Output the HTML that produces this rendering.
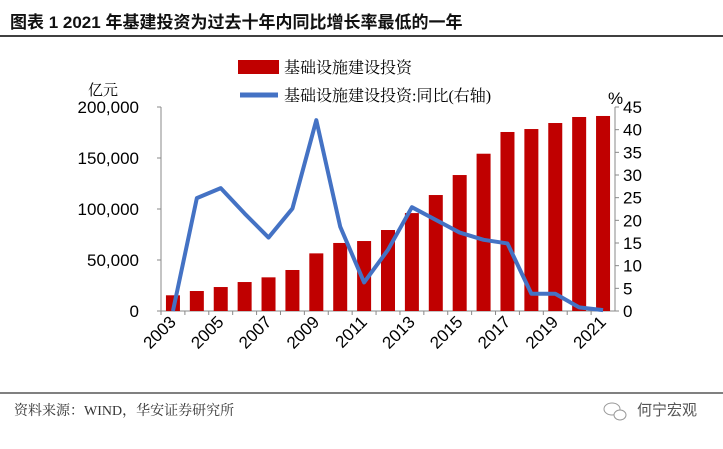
<!DOCTYPE html>
<html><head><meta charset="utf-8"><style>
body{margin:0;background:#fff;}
svg{display:block;font-family:"Liberation Sans","Noto Sans CJK SC",sans-serif;}
.serif{font-family:"Liberation Serif","Noto Serif CJK SC",serif;}
</style></head><body>
<svg id="chart" width="723" height="449">
<text x="10" y="28" font-size="17" font-weight="bold" fill="#111">图表 1 2021 年基建投资为过去十年内同比增长率最低的一年</text>
<line x1="0" y1="36" x2="723" y2="36" stroke="#000" stroke-width="1.5"/>
<rect x="238" y="60" width="41" height="14" fill="#c00000"/>
<text class="serif" x="284" y="73" font-size="16" fill="#000">基础设施建设投资</text>
<line x1="240" y1="95" x2="278" y2="95" stroke="#4472c4" stroke-width="5"/>
<text class="serif" x="284" y="101" font-size="16" fill="#000">基础设施建设投资:同比(右轴)</text>
<text class="serif" x="88" y="95" font-size="15" fill="#000">亿元</text>
<text x="608" y="104" font-size="17" fill="#000">%</text>
<g id="plot"></g>
<line x1="0" y1="393" x2="723" y2="393" stroke="#000" stroke-width="1"/>
<text class="serif" x="14" y="415" font-size="14" fill="#333">资料来源：WIND，华安证券研究所</text>
<text x="637" y="415" font-size="15" fill="#555">何宁宏观</text>
<ellipse cx="612" cy="409" rx="8" ry="6" fill="none" stroke="#999"/>
<ellipse cx="620" cy="415" rx="6" ry="5" fill="#fff" stroke="#999"/>
</svg>
<script>
const years=[2003,2004,2005,2006,2007,2008,2009,2010,2011,2012,2013,2014,2015,2016,2017,2018,2019,2020,2021];
const invest=[15400,19600,23500,28400,33000,40200,56500,66700,68600,79400,96000,113700,133300,154200,175500,178400,184300,190200,191200];
const yoy=[0,24.9,27.1,21.5,16.2,22.6,42.1,18.6,6.3,13.5,22.9,20.1,17.3,15.7,14.9,3.8,3.8,0.8,0.2];
const leftTicks=[0,50000,100000,150000,200000];
const rightTicks=[0,5,10,15,20,25,30,35,40,45];
const NS="http://www.w3.org/2000/svg";
const g=document.getElementById('plot');
const X0=161,X1=615,Y0=311,YT=107;
const step=(X1-X0)/years.length;
const xc=i=>X0+step*(i+0.5);
const yl=v=>Y0-(v/200000)*(Y0-YT);
const yr=v=>Y0-(v/45)*(Y0-YT);
function mk(t,a){const e=document.createElementNS(NS,t);for(const k in a)e.setAttribute(k,a[k]);g.appendChild(e);return e;}
let e;
e=mk('line',{x1:X0,y1:YT,x2:X0,y2:Y0,stroke:'#888'});


e=mk('line',{x1:X1,y1:YT,x2:X1,y2:Y0,stroke:'#888'});


e=mk('line',{x1:X0,y1:Y0,x2:X1,y2:Y0,stroke:'#888'});


leftTicks.forEach(v=>{
 mk('line',{x1:X0-4,y1:yl(v),x2:X0,y2:yl(v),stroke:'#888'});
 e=mk('text',{x:X0-22,y:yl(v)+6,'text-anchor':'end','font-size':17,fill:'#000'});
 e.textContent=v.toLocaleString('en-US');
 
 
});
rightTicks.forEach(v=>{
 mk('line',{x1:X1,y1:yr(v),x2:X1+4,y2:yr(v),stroke:'#888'});
 e=mk('text',{x:X1+8,y:yr(v)+6,'font-size':17,fill:'#000'});
 e.textContent=v;
 
 
});
years.forEach((y,i)=>{
 mk('line',{x1:X0+step*i,y1:Y0,x2:X0+step*i,y2:Y0+4,stroke:'#888'});
 e=mk('rect',{x:xc(i)-7,y:yl(invest[i]),width:14,height:Y0-yl(invest[i]),fill:'#c00000'});
 
 
 if(i%2===0){
  const tx=xc(i)+4,ty=Y0+12;
  e=mk('text',{x:tx,y:ty,'text-anchor':'end','font-size':17,fill:'#000',transform:`rotate(-45 ${tx} ${ty})`});
  e.textContent=y;
  
  
 }
});
e=mk('polyline',{points:yoy.map((v,i)=>xc(i)+','+yr(v)).join(' '),fill:'none',stroke:'#4472c4','stroke-width':4,'stroke-linejoin':'round'});


</script>
</body></html>
